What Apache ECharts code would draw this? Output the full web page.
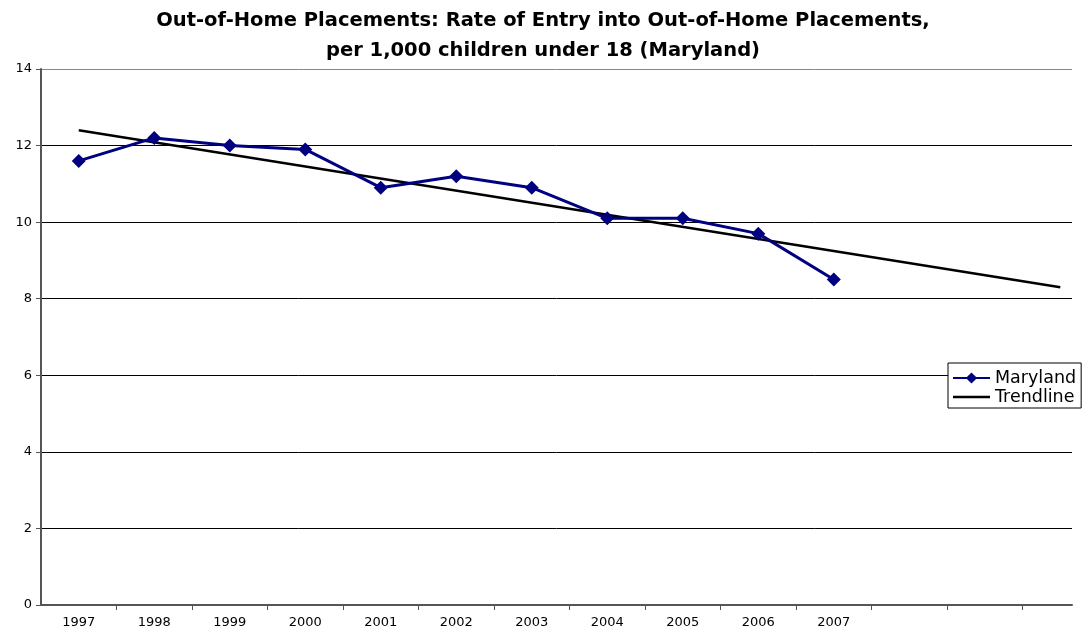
<!DOCTYPE html>
<html>
<head>
<meta charset="utf-8">
<script src="https://cdn.jsdelivr.net/npm/echarts@6/dist/echarts.min.js"></script>
<style>
html, body { margin: 0; padding: 0; background: #fff; }
#chart { width: 1086px; height: 633px; }
</style>
</head>
<body>
<div id="chart"></div>
<script>
var years = [1997, 1998, 1999, 2000, 2001, 2002, 2003, 2004, 2005, 2006, 2007];
var maryland = [11.6, 12.2, 12.0, 11.9, 10.9, 11.2, 10.9, 10.1, 10.1, 9.7, 8.5];
var trendYears = [1997, 2010];
var trendValues = [12.4, 8.3];
var xTicks = [1997.5, 1998.5, 1999.5, 2000.5, 2001.5, 2002.5, 2003.5, 2004.5, 2005.5, 2006.5, 2007.5, 2008.5, 2009.5];

var font = '"DejaVu Sans", Arial, sans-serif';
var diamond = 'path://M0,7L6,1L12,7L6,13Z';

var myChart = echarts.init(document.getElementById('chart'));

var option = {
    animation: false,
    backgroundColor: '#fff',
    title: {
        text: 'Out-of-Home Placements: Rate of Entry into Out-of-Home Placements,\nper 1,000 children under 18 (Maryland)',
        left: 543,
        textAlign: 'center',
        top: 6,
        padding: 0,
        textStyle: {
            fontFamily: font,
            fontSize: 19.5,
            fontWeight: 'bold',
            color: '#000',
            lineHeight: 30
        }
    },
    legend: {
        orient: 'vertical',
        left: 948,
        top: 363,
        backgroundColor: '#fff',
        borderColor: '#000',
        borderWidth: 1,
        borderRadius: 0,
        padding: [6, 5, 2, 4],
        itemGap: 1,
        itemWidth: 37,
        itemHeight: 14,
        textStyle: { fontFamily: font, fontSize: 17.5, color: '#000', padding: [0, 0, 0, 0] },
        data: [
            { name: 'Maryland' },
            { name: 'Trendline', icon: 'path://M0,0L37,0L37,2.5L0,2.5Z' }
        ]
    },
    grid: { left: 41, top: 69, right: 14, bottom: 28 },
    xAxis: {
        type: 'value',
        min: 1996.5,
        max: 2010.155,
        axisLine: { show: true, lineStyle: { color: '#555', width: 2 } },
        axisTick: {
            show: true,
            length: 5,
            inside: false,
            customValues: xTicks,
            lineStyle: { color: '#555', width: 1 }
        },
        axisLabel: {
            customValues: years,
            formatter: function (v) { return String(Math.round(v)); },
            fontFamily: font,
            fontSize: 13,
            color: '#000',
            margin: 11
        },
        splitLine: { show: false }
    },
    yAxis: {
        type: 'value',
        min: 0,
        max: 14,
        interval: 2,
        axisLine: { show: true, lineStyle: { color: '#555', width: 2 } },
        axisTick: { show: true, length: 5, lineStyle: { color: '#555' } },
        axisLabel: {
            fontFamily: font,
            fontSize: 13,
            color: '#000',
            margin: 9
        },
        splitLine: {
            show: true,
            lineStyle: { color: ['#000', '#000', '#000', '#000', '#000', '#000', '#000', '#888'], width: 1 }
        }
    },
    series: [
        {
            name: 'Maryland',
            type: 'line',
            data: years.map(function (y, i) { return [y, maryland[i]]; }),
            symbol: diamond,
            symbolSize: 14,
            showAllSymbol: true,
            lineStyle: { color: '#000080', width: 3 },
            itemStyle: { color: '#000080' },
            z: 3
        },
        {
            name: 'Trendline',
            type: 'line',
            data: trendYears.map(function (y, i) { return [y, trendValues[i]]; }),
            symbol: 'none',
            lineStyle: { color: '#000', width: 2.5 },
            itemStyle: { color: '#000' },
            z: 2
        }
    ]
};

myChart.setOption(option);
</script>
</body>
</html>
